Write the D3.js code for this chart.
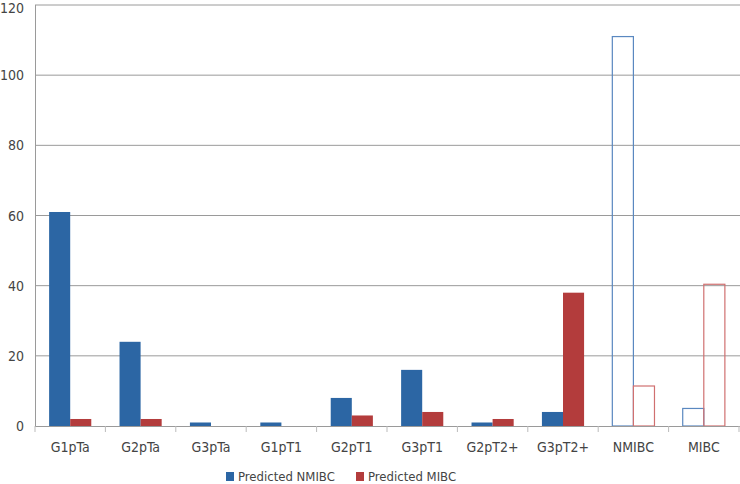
<!DOCTYPE html>
<html><head><meta charset="utf-8">
<script src="https://cdn.jsdelivr.net/npm/d3@7"></script>
<style>body{margin:0;background:#fff}text{font-family:"DejaVu Sans Condensed","DejaVu Sans",sans-serif;font-stretch:condensed;fill:#444}</style>
</head><body><svg id="c" width="740" height="484"></svg>
<script>
var categories = ["G1pTa","G2pTa","G3pTa","G1pT1","G2pT1","G3pT1","G2pT2+","G3pT2+","NMIBC","MIBC"];
var predictedNMIBC = [61,24,1,1,8,16,1,4,111,5];
var predictedMIBC = [2,2,0,0,3,4,2,38,11.4,40.4];
var hollow = ["NMIBC","MIBC"];
var yTicks = [0,20,40,60,80,100,120];

var svg = d3.select("#c");
var x = d3.scaleBand().domain(categories).range([35,739]);
var y = d3.scaleLinear().domain([0,120]).range([426,5]);
var inner = d3.scaleBand().domain([0,1]).range([0,x.bandwidth()]).paddingOuter(0.67);

// gridlines
svg.append("g").selectAll("line").data(yTicks.slice(1)).enter().append("line")
  .attr("x1",35).attr("x2",740).attr("y1",d=>y(d)).attr("y2",d=>y(d))
  .attr("stroke","#9a9a9a");

var series = [
  {vals: predictedNMIBC, fill:"#2c66a4", stroke:"#5a88c0"},
  {vals: predictedMIBC, fill:"#b33c3c", stroke:"#d07070"}
];
series.forEach(function(s,i){
  svg.append("g").selectAll("rect").data(categories).enter().append("rect")
    .attr("x",d=>x(d)+inner(i))
    .attr("width",inner.bandwidth())
    .attr("y",(d,k)=>y(s.vals[k]))
    .attr("height",(d,k)=>y(0)-y(s.vals[k]))
    .attr("fill",d=>hollow.includes(d)?"none":s.fill)
    .attr("stroke",d=>hollow.includes(d)?s.stroke:"none")
    .attr("stroke-width",1.2);
});

// axes
svg.append("line").attr("x1",35.5).attr("x2",35.5).attr("y1",5).attr("y2",426).attr("stroke","#9a9a9a");
svg.append("line").attr("x1",35).attr("x2",740).attr("y1",426.5).attr("y2",426.5).attr("stroke","#9a9a9a");
svg.append("g").selectAll("line").data(categories.concat(["end"])).enter().append("line")
  .attr("x1",(d,i)=>35+i*x.bandwidth()).attr("x2",(d,i)=>35+i*x.bandwidth())
  .attr("y1",426).attr("y2",432).attr("stroke","#bbb");
svg.append("g").selectAll("text").data(yTicks).enter().append("text")
  .attr("x",24).attr("y",d=>Math.max(y(d)+5,13)).attr("text-anchor","end").attr("font-size",14).text(d=>d);
svg.append("g").selectAll("text").data(categories).enter().append("text")
  .attr("x",d=>x(d)+x.bandwidth()/2).attr("y",452).attr("text-anchor","middle").attr("font-size",14).text(d=>d);

// legend
var legend = [{name:"Predicted NMIBC",c:"#2c66a4",x:226},{name:"Predicted MIBC",c:"#b33c3c",x:356}];
legend.forEach(function(l){
  svg.append("rect").attr("x",l.x).attr("y",472).attr("width",8).attr("height",9).attr("fill",l.c);
  svg.append("text").attr("x",l.x+12).attr("y",481).attr("font-size",13).text(l.name);
});
</script></body></html>
